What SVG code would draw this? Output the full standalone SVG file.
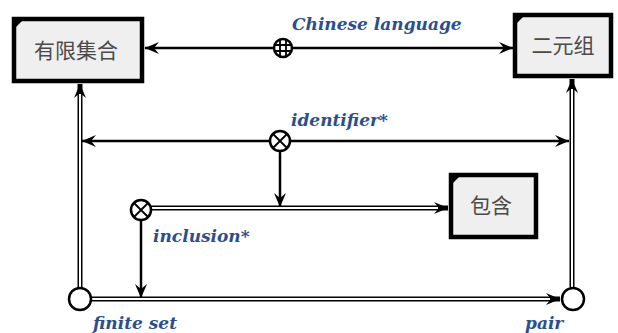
<svg xmlns="http://www.w3.org/2000/svg" width="618" height="333" viewBox="0 0 618 333">
  <style>
    .box { fill: #efefef; stroke: #000; stroke-width: 4.5; }
    .corner { fill: #000; }
    .cjk { font-family: "Noto Sans CJK SC", sans-serif; font-size: 21px; fill: #4a4a4a; text-anchor: middle; }
    .lbl { font-family: "DejaVu Serif", serif; font-style: italic; font-weight: bold; font-size: 17px; fill: #2b4f8e; }
    .line { fill: none; stroke: #000; stroke-width: 2.5; }
    .dbl-out { fill: none; stroke: #000; stroke-width: 5; }
    .dbl-in { fill: none; stroke: #fff; stroke-width: 2; }
    .sym { fill: #fff; stroke: #000; stroke-width: 2.5; }
    .symline { stroke: #000; stroke-width: 1.8; fill: none; }
  </style>
  <defs>
    <marker id="arr" viewBox="-15 -7 16 14" refX="0" refY="0" markerWidth="16" markerHeight="14" markerUnits="userSpaceOnUse" orient="auto-start-reverse">
      <path d="M0,0 L-14,-6 L-9,0 L-14,6 Z" fill="#000"/>
    </marker>
  </defs>
  <rect width="618" height="333" fill="#fff"/>

  <g id="connectors">
    <!-- Chinese language: 有限集合 <-> 二元组 -->
    <path class="line" d="M145,48 H513" marker-start="url(#arr)" marker-end="url(#arr)"/>
    <!-- identifier*: both vertical links -->
    <path class="line" d="M82,141 H569" marker-start="url(#arr)" marker-end="url(#arr)"/>
    <path class="line" d="M280,151 V207" marker-end="url(#arr)"/>
    <!-- inclusion* -> 包含 -->
    <path class="dbl-out" d="M151,208 H448" marker-end="url(#arr)"/>
    <path class="dbl-in" d="M151,208 H438"/>
    <path class="line" d="M141,221 V298" marker-end="url(#arr)"/>
    <!-- finite set -> pair -->
    <path class="dbl-out" d="M91,299 H560" marker-end="url(#arr)"/>
    <path class="dbl-in" d="M91,299 H550"/>
    <!-- finite set -> 有限集合 -->
    <path class="dbl-out" d="M80,288 V84" marker-end="url(#arr)"/>
    <path class="dbl-in" d="M80,288 V94"/>
    <!-- pair -> 二元组 -->
    <path class="dbl-out" d="M572,287 V79" marker-end="url(#arr)"/>
    <path class="dbl-in" d="M572,287 V89"/>
  </g>

  <g id="node-youxianjihe">
    <rect class="box" x="14" y="19" width="128" height="62"/>
    <path class="corner" d="M14,19 h10 l-10,10 Z"/>
    <text class="cjk" x="76" y="58">有限集合</text>
  </g>

  <g id="node-eryuanzu">
    <rect class="box" x="515" y="15" width="96" height="61"/>
    <path class="corner" d="M515,15 h10 l-10,10 Z"/>
    <text class="cjk" x="563" y="53">二元组</text>
  </g>

  <g id="node-baohan">
    <rect class="box" x="451" y="175" width="85" height="62"/>
    <path class="corner" d="M451,175 h10 l-10,10 Z"/>
    <text class="cjk" x="491" y="213">包含</text>
  </g>

  <g id="node-chinese-language">
    <circle class="sym" cx="283" cy="48" r="9"/>
    <path class="symline" d="M280,40 V56 M286,40 V56 M275,45 H291 M275,51 H291"/>
    <text class="lbl" x="292" y="30">Chinese language</text>
  </g>

  <g id="node-identifier">
    <circle class="sym" cx="280" cy="141" r="10"/>
    <path class="symline" d="M273,134 L287,148 M287,134 L273,148"/>
    <text class="lbl" x="291" y="126">identifier*</text>
  </g>

  <g id="node-inclusion">
    <circle class="sym" cx="141" cy="210" r="10"/>
    <path class="symline" d="M134,203 L148,217 M148,203 L134,217"/>
    <text class="lbl" x="153" y="242">inclusion*</text>
  </g>

  <g id="node-finite-set">
    <circle class="sym" cx="80" cy="299" r="11"/>
    <text class="lbl" x="93" y="329">finite set</text>
  </g>

  <g id="node-pair">
    <circle class="sym" cx="573" cy="299" r="11"/>
    <text class="lbl" x="525" y="329">pair</text>
  </g>
</svg>
